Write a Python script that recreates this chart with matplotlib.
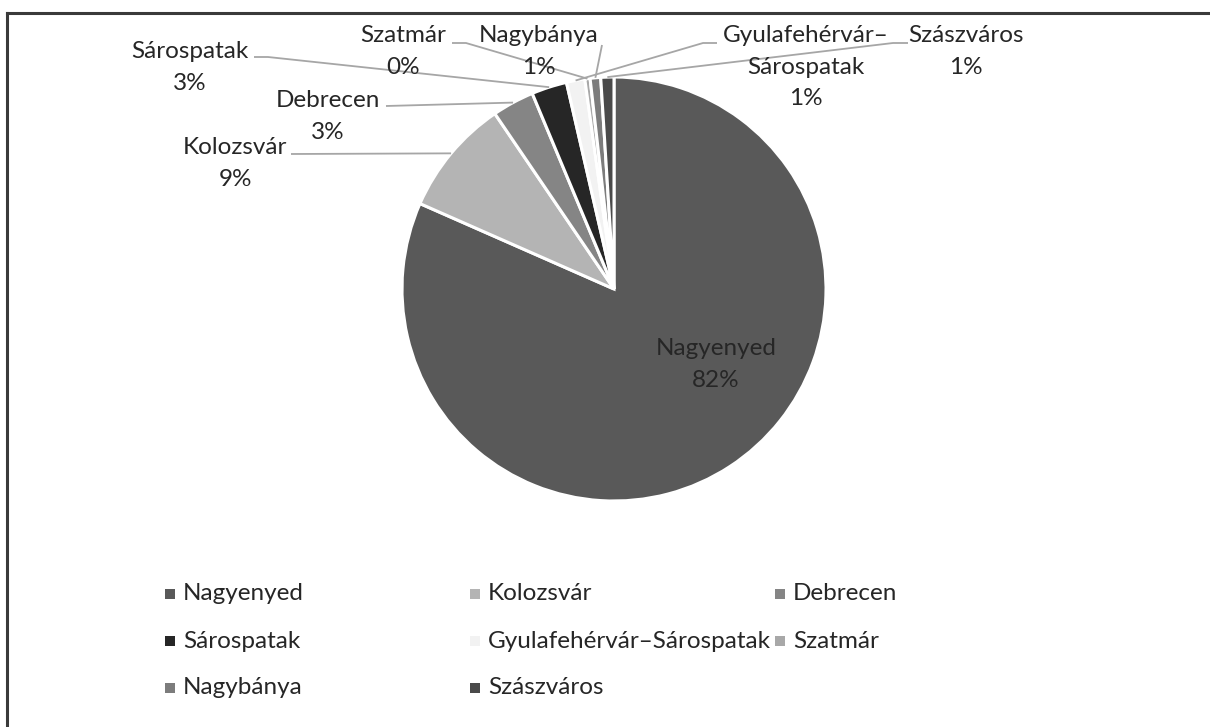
import numpy as np
import matplotlib
matplotlib.use("Agg")
import matplotlib.pyplot as plt
from matplotlib.lines import Line2D

plt.rcParams["font.family"] = ["Lato", "DejaVu Sans"]

# data (share in %)
cities = ["Nagyenyed", "Kolozsvár", "Debrecen", "Sárospatak",
          "Gyulafehérvár–Sárospatak", "Szatmár", "Nagybánya", "Szászváros"]
shares = [81.6, 8.9, 3.2, 2.7, 1.4, 0.4, 0.8, 1.0]
colors = ["#595959", "#b4b4b4", "#858585", "#262626",
          "#f2f2f2", "#a8a8a8", "#7c7c7c", "#4a4a4a"]

W, H = 1210, 727
fig = plt.figure(figsize=(W / 100, H / 100), dpi=100)
ax = fig.add_axes([0, 0, 1, 1])

def Y(y):  # pixel row -> data y
    return H - y

cx, cy, R = 614, Y(289), 212
wedges, _ = ax.pie(shares, colors=colors, startangle=90, counterclock=False,
                   center=(cx, cy), radius=R, frame=True,
                   wedgeprops=dict(edgecolor="white", linewidth=2.2))
ax.set_xlim(0, W); ax.set_ylim(0, H)
ax.set_aspect("equal")
ax.axis("off")

fs = 17.5
LS = 31      # px between text lines
lc = "#a6a6a6"
tc = "#262626"

def block(x, y_first, txt, **kw):
    n = txt.count("\n") + 1
    ax.text(x, Y(y_first + (n - 1) * LS / 2), txt, ha="center", va="center",
            fontsize=fs, color=tc, linespacing=1.62, **kw)

def pct(v):
    return f"{int(round(v))}%"

# label layout: text x, first line y, leader start, optional elbow
layout = {
    1: (235, 148, (291, 154), None),
    2: (328, 101, (386, 106), None),
    3: (190, 52, (254, 57), (268, 57)),
    4: (806, 36, (717, 43), (703, 43)),
    5: (403, 36, (452, 43), (466, 43)),
    6: (539, 36, (602, 45), None),
    7: (966, 36, (908, 43), (893, 43)),
}

for i, (tx, ty, start, elbow) in layout.items():
    name = cities[i]
    if i == 4:
        name = "Gyulafehérvár–\nSárospatak"
    block(tx, ty, f"{name}\n{pct(shares[i])}")
    w = wedges[i]
    mid = np.deg2rad((w.theta1 + w.theta2) / 2)
    ex, ey = cx + R * np.cos(mid), cy + R * np.sin(mid)
    xs = [start[0]]; ys = [Y(start[1])]
    if elbow:
        xs.append(elbow[0]); ys.append(Y(elbow[1]))
    xs.append(ex); ys.append(ey)
    ax.plot(xs, ys, color=lc, lw=1.3, solid_capstyle="butt")

# label inside the big slice
block(716, 349, f"{cities[0]}\n{pct(shares[0])}")

# legend, filled row-wise like the original
col_x = [170, 475, 780]
row_y = [594, 641, 688]
for k, (name, c) in enumerate(zip(cities, colors)):
    r, cc = divmod(k, 3)
    ax.scatter([col_x[cc]], [Y(row_y[r])], marker="s", s=60, color=c,
               edgecolors="none")
    ax.text(col_x[cc] + 13, Y(row_y[r]), name, ha="left", va="center",
            fontsize=fs, color=tc)

# chart frame (only top and left edges visible in the crop)
fig.add_artist(Line2D([7 / W, 1], [1 - 13 / H, 1 - 13 / H], color="#3a3a3a", lw=2.2))
fig.add_artist(Line2D([7 / W, 7 / W], [0, 1 - 13 / H], color="#3a3a3a", lw=2.2))

fig.savefig("out.png", dpi=100)
